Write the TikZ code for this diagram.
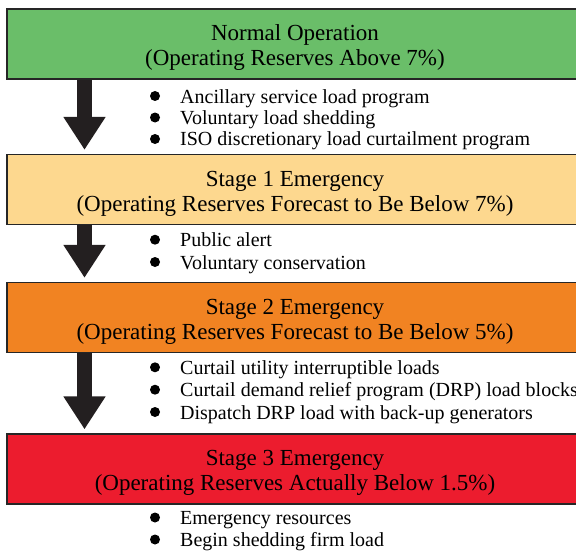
\documentclass[tikz,border=0pt]{standalone}
\usepackage{fontspec}
\setmainfont{Liberation Serif}
\usetikzlibrary{arrows.meta}
\begin{document}
\begin{tikzpicture}[x=1pt, y=-1pt,
    stagebox/.style={draw=black!85, line width=1.3pt, shape=rectangle, minimum width=576pt, minimum height=70pt,
        align=center, inner sep=0pt, text height=43pt, text depth=0pt, font=\fontsize{23}{25}\selectfont},
    item/.style={anchor=base west, inner sep=0pt, font=\fontsize{20}{22}\selectfont},
    dot/.style={shape=circle, fill=black, minimum size=10pt, inner sep=0pt},
    downarrow/.style={draw=Acolor, line width=15pt, shorten >=4pt, -{Triangle[width=40pt, length=33pt]}}]
            \definecolor{Gcolor}{RGB}{106, 190, 105}
            \definecolor{Ycolor}{RGB}{253, 216, 143}
            \definecolor{Ocolor}{RGB}{241, 131, 34}
            \definecolor{Rcolor}{RGB}{236, 28, 46}
            \definecolor{Acolor}{RGB}{35, 31, 32}
            \def\boxX{295}
            \def\bulletX{-25pt}
            \def\bulletY{7pt}
            \useasboundingbox (0, 0) rectangle (576, 551);
            \clip (0, 0) rectangle (576, 551);
            % stage boxes
            \node[stagebox, fill=Gcolor] (S0) at (\boxX, 44) {Normal Operation\\(Operating Reserves Above 7\%)};
            \node[stagebox, fill=Ycolor] (S1) at (\boxX, 189.5) {Stage 1 Emergency\\(Operating Reserves Forecast to Be Below 7\%)};
            \node[stagebox, fill=Ocolor] (S2) at (\boxX, 317.5) {Stage 2 Emergency\\(Operating Reserves Forecast to Be Below 5\%)};
            \node[stagebox, fill=Rcolor] (S3) at (\boxX, 469) {Stage 3 Emergency\\(Operating Reserves Actually Below 1.5\%)};
            % arrows
            \coordinate (axis) at (84.5, 0);
            \draw[downarrow] (S0.south -| axis) -- (S1.north -| axis);
            \draw[downarrow] (S1.south -| axis) -- (S2.north -| axis);
            \draw[downarrow] (S2.south -| axis) -- (S3.north -| axis);
            % actions
            \node[item] (a1) at (180, 103) {Ancillary service load program};
            \node[item] (a2) at (180, 124.5) {Voluntary load shedding};
            \node[item] (a3) at (180, 146) {ISO discretionary load curtailment program};
            \node[item] (b1) at (180, 246.7) {Public alert};
            \node[item] (b2) at (180, 269) {Voluntary conservation};
            \node[item] (c1) at (180, 374.3) {Curtail utility interruptible loads};
            \node[item] (c2) at (180, 396.7) {Curtail demand relief program (DRP) load blocks};
            \node[item] (c3) at (180, 419) {Dispatch DRP load with back-up generators};
            \node[item] (d1) at (180, 524.5) {Emergency resources};
            \node[item] (d2) at (180, 546.5) {Begin shedding firm load};
            \foreach \n in {a1, a2, a3, b1, b2, c1, c2, c3, d1, d2}
                \node[dot] at ([shift={(\bulletX, \bulletY)}]\n.base west) {};
\end{tikzpicture}
\end{document}
